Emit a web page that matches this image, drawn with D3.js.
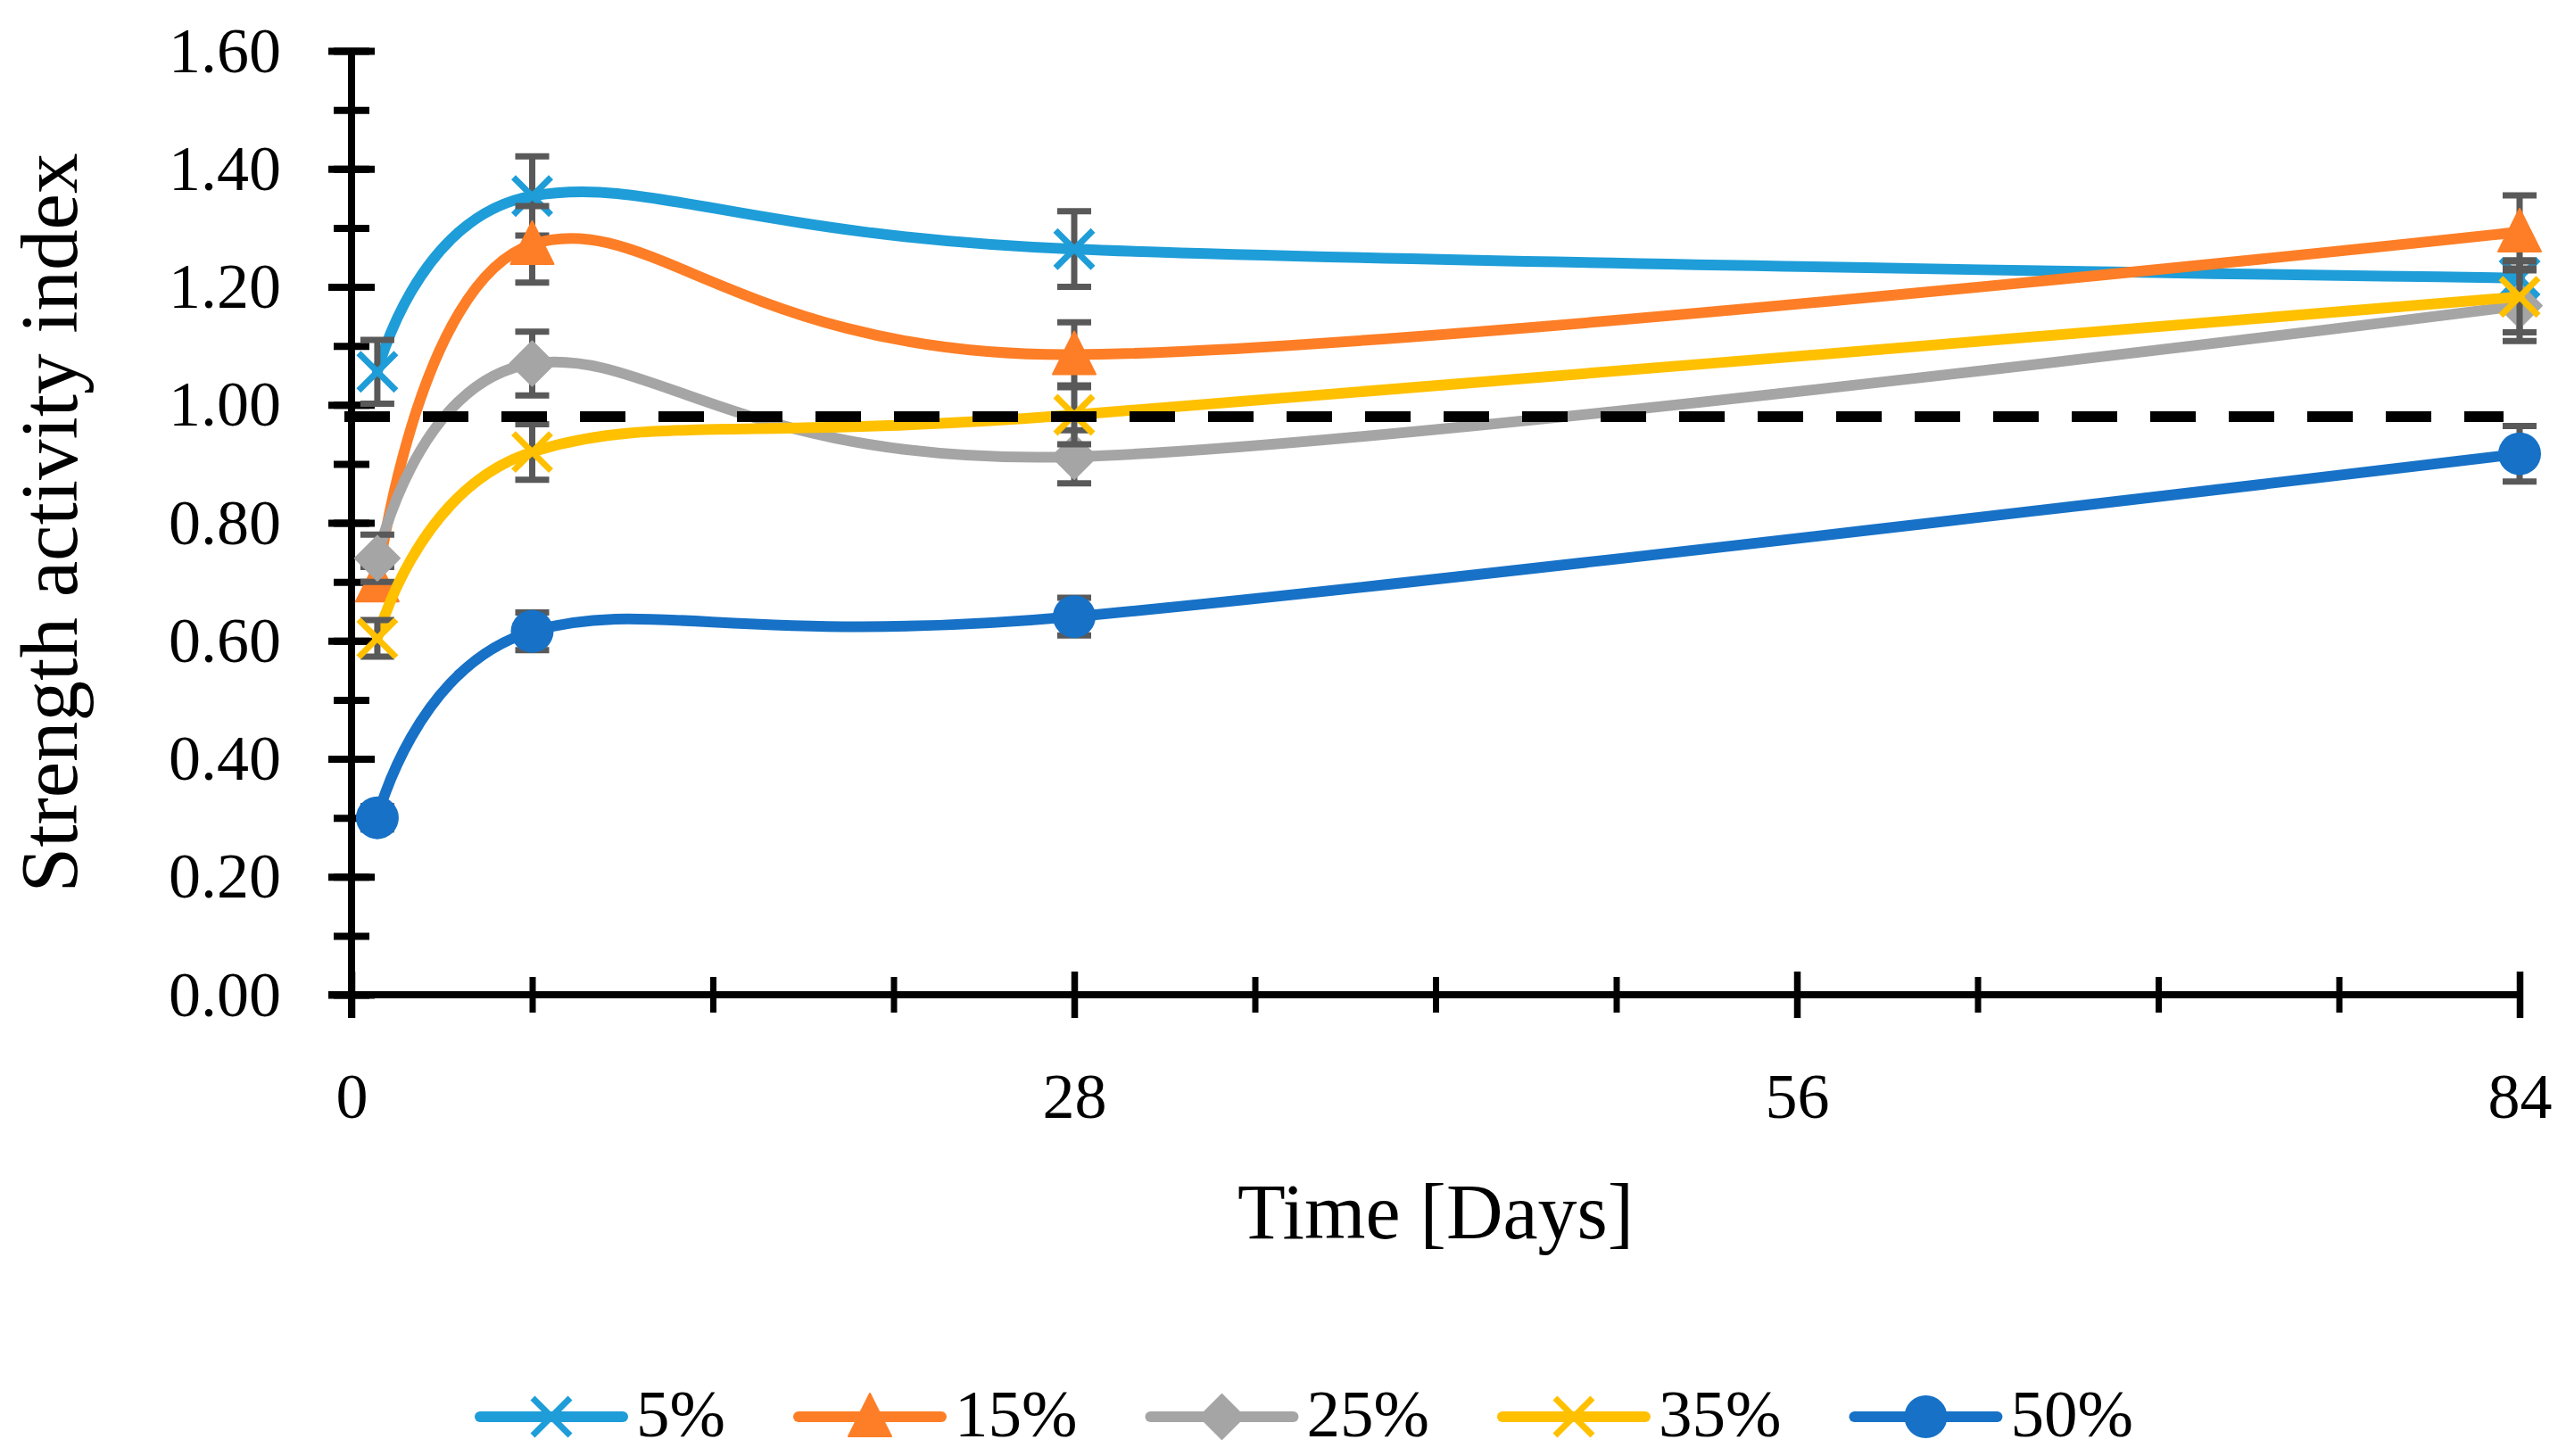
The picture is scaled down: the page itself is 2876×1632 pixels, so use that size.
<!DOCTYPE html>
<html>
<head>
<meta charset="utf-8">
<script src="https://cdn.jsdelivr.net/npm/d3@7/dist/d3.min.js"></script>
<style>
  body { margin: 0; background: #fff; }
  svg { display: block; }
  text { font-family: "Liberation Serif", "Times New Roman", serif; fill: #000; }
</style>
</head>
<body>
<svg id="chart" width="2876" height="1632"></svg>
<script>
// data
const days = [1, 7, 28, 84];
const seriesNames = ["5%", "15%", "25%", "35%", "50%"];
const sai5 = [1.056, 1.354, 1.264, 1.215];
const sai15 = [0.700, 1.272, 1.085, 1.293];
const sai25 = [0.740, 1.070, 0.912, 1.168];
const sai35 = [0.604, 0.920, 0.983, 1.183];
const sai50 = [0.300, 0.616, 0.641, 0.917];
const err5 = [0.054, 0.067, 0.064, 0.030];
const err15 = [0.025, 0.065, 0.055, 0.062];
const err25 = [0.040, 0.054, 0.045, 0.060];
const err35 = [0.031, 0.047, 0.050, 0.060];
const err50 = [0.020, 0.032, 0.032, 0.047];
const refDays = [0, 84];
const refValue = [0.98, 0.98];
const xTicks = [0, 28, 56, 84];
const yTicks = [0, 0.2, 0.4, 0.6, 0.8, 1.0, 1.2, 1.4, 1.6];

const colors = ["#1E9DD8", "#FD7E26", "#A5A5A5", "#FFC000", "#1771C6"];
const shapes = ["x", "triangle", "diamond", "x", "circle"];
const values = [sai5, sai15, sai25, sai35, sai50];
const errors = [err5, err15, err25, err35, err50];

const svg = d3.select("#chart");

let x = d3.scaleLinear().domain([0, 84]).range([394, 2824]);
let y = d3.scaleLinear().domain([0, 1.6]).range([1115, 57]);

// minor ticks (every 7 days / every 0.1)
let xMinor = d3.axisBottom(x).tickValues(d3.range(0, 85, 7)).tickFormat("").tickSizeOuter(0);
let yMinor = d3.axisLeft(y).tickValues(d3.range(0, 1.61, 0.1)).tickFormat("").tickSizeOuter(0);

svg.append("g").attr("transform", `translate(0,${y(0)})`).call(xMinor)
  .call(g => g.select(".domain").remove())
  .selectAll(".tick line").attr("y1", -20).attr("y2", 20).attr("stroke", "#000").attr("stroke-width", 7);
svg.append("g").attr("transform", `translate(${x(0)},0)`).call(yMinor)
  .call(g => g.select(".domain").remove())
  .selectAll(".tick line").attr("x1", -20).attr("x2", 20).attr("stroke", "#000").attr("stroke-width", 8);

// major ticks + labels
let xAxis = d3.axisBottom(x).tickValues(xTicks).tickFormat(d3.format("d")).tickSizeOuter(0);
let yAxis = d3.axisLeft(y).tickValues(yTicks).tickFormat(d3.format(".2f")).tickSizeOuter(0);

let gx = svg.append("g").attr("transform", `translate(0,${y(0)})`).call(xAxis);
gx.selectAll(".tick line").attr("y1", -26).attr("y2", 26).attr("stroke", "#000").attr("stroke-width", 7.5);
gx.selectAll(".tick text").attr("y", 138).attr("dy", 0).style("font-size", "72px");
gx.select(".domain").remove();

let gy = svg.append("g").attr("transform", `translate(${x(0)},0)`).call(yAxis);
gy.selectAll(".tick line").attr("x1", -26).attr("x2", 26).attr("stroke", "#000").attr("stroke-width", 8);
gy.selectAll(".tick text").attr("x", -79).attr("dy", "0.32em").style("font-size", "72px");
gy.select(".domain").remove();

// axis lines
svg.append("line")
  .attr("x1", x(0) - 26).attr("x2", x(84))
  .attr("y1", y(0)).attr("y2", y(0))
  .attr("stroke", "#000").attr("stroke-width", 8);
svg.append("line")
  .attr("x1", x(0)).attr("x2", x(0))
  .attr("y1", y(1.6)).attr("y2", y(0) + 26)
  .attr("stroke", "#000").attr("stroke-width", 8);

// axis titles
svg.append("text")
  .attr("x", (x(0) + x(84)) / 2).attr("y", 1388)
  .attr("text-anchor", "middle").style("font-size", "88px")
  .text("Time [Days]");
svg.append("text")
  .attr("transform", `translate(86,${(y(0) + y(1.6)) / 2}) rotate(-90)`)
  .attr("text-anchor", "middle").style("font-size", "91px")
  .text("Strength activity index");

// marker drawing
function drawMarker(g, shape, color) {
  if (shape === "x") {
    g.append("path").attr("d", "M-21,-21L21,21M-21,21L21,-21")
      .attr("stroke", color).attr("stroke-width", 7).attr("fill", "none");
  } else if (shape === "triangle") {
    g.append("path").attr("d", "M0,-26L24,22L-24,22Z").attr("fill", color)
      .attr("stroke", color).attr("stroke-width", 2).attr("stroke-linejoin", "round");
  } else if (shape === "diamond") {
    g.append("path").attr("d", "M0,-25L25,0L0,25L-25,0Z").attr("fill", color)
      .attr("stroke", color).attr("stroke-width", 2).attr("stroke-linejoin", "round");
  } else {
    g.append("circle").attr("r", 24).attr("fill", color);
  }
}

// Excel-like smoothing (uniform Catmull-Rom)
let line = d3.line()
  .x(d => x(d.day))
  .y(d => y(d.v))
  .curve(d3.curveCardinal.tension(0));

values.forEach((vals, si) => {
  let pts = days.map((d, i) => ({ day: d, v: vals[i], e: errors[si][i] }));
  let g = svg.append("g");

  g.append("path").datum(pts)
    .attr("d", line)
    .attr("fill", "none")
    .attr("stroke", colors[si])
    .attr("stroke-width", 12)
    .attr("stroke-linecap", "round");

  let eb = g.selectAll(".err").data(pts).enter().append("g").attr("class", "err");
  eb.append("line")
    .attr("x1", d => x(d.day)).attr("x2", d => x(d.day))
    .attr("y1", d => y(d.v + d.e)).attr("y2", d => y(d.v - d.e));
  eb.append("line")
    .attr("x1", d => x(d.day) - 19).attr("x2", d => x(d.day) + 19)
    .attr("y1", d => y(d.v + d.e)).attr("y2", d => y(d.v + d.e));
  eb.append("line")
    .attr("x1", d => x(d.day) - 19).attr("x2", d => x(d.day) + 19)
    .attr("y1", d => y(d.v - d.e)).attr("y2", d => y(d.v - d.e));
  eb.selectAll("line").attr("stroke", "#595959").attr("stroke-width", 7);

  g.selectAll(".mk").data(pts).enter().append("g").attr("class", "mk")
    .attr("transform", d => `translate(${x(d.day)},${y(d.v)})`)
    .each(function () { drawMarker(d3.select(this), shapes[si], colors[si]); });
});

// reference dashed line
svg.append("line")
  .attr("x1", x(refDays[0]) - 8).attr("x2", x(refDays[1]) - 18)
  .attr("y1", y(refValue[0])).attr("y2", y(refValue[1]))
  .attr("stroke", "#000").attr("stroke-width", 12)
  .attr("stroke-dasharray", "51,37");

// legend
let legend = svg.append("g");
let lx = 532;
seriesNames.forEach((name, i) => {
  let item = legend.append("g").attr("transform", `translate(${lx},1588)`);
  item.append("line").attr("x1", 6).attr("x2", 166)
    .attr("stroke", colors[i]).attr("stroke-width", 12).attr("stroke-linecap", "round");
  let mk = item.append("g").attr("transform", "translate(86,0)");
  drawMarker(mk, shapes[i], colors[i]);
  let t = item.append("text").attr("x", 181).attr("y", 22)
    .style("font-size", "75px").text(name);
  lx += 181 + t.node().getComputedTextLength() + 76;
});
</script>
</body>
</html>
